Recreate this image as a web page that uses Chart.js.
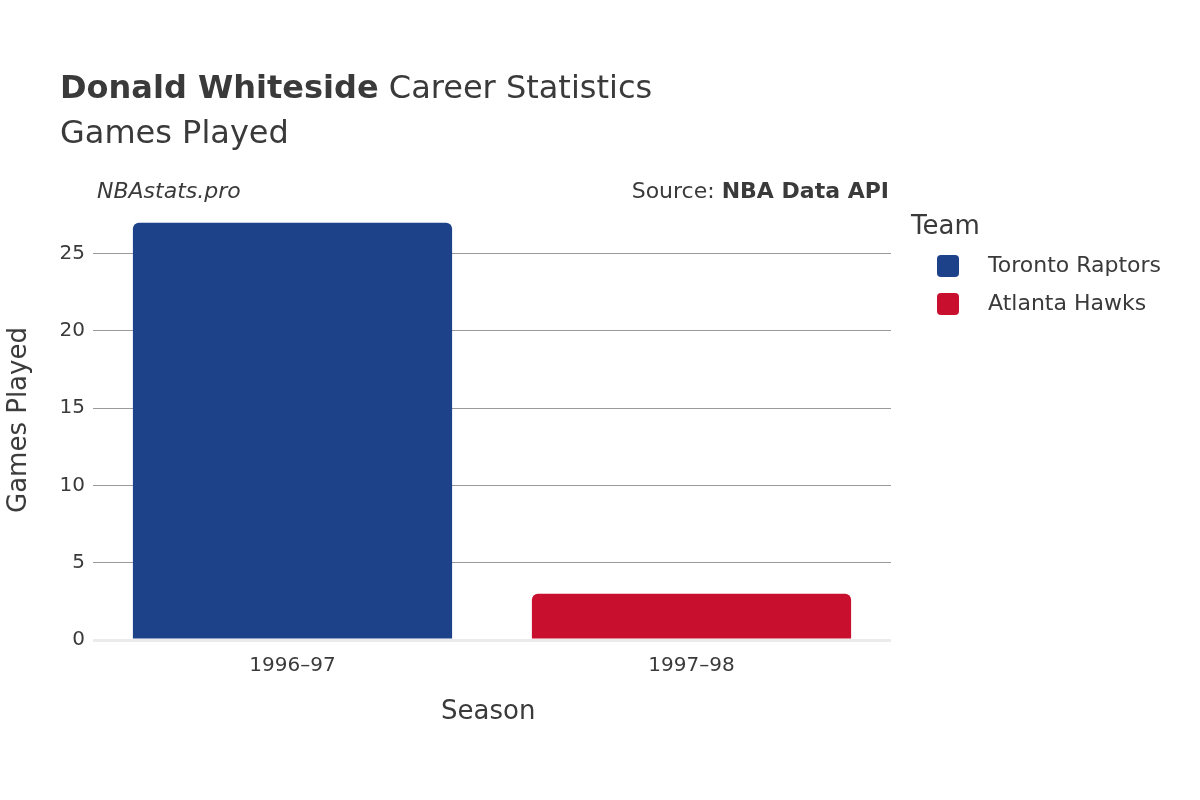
<!DOCTYPE html>
<html><head><meta charset="utf-8">
<script src="https://cdn.jsdelivr.net/npm/chart.js@4"></script>
<style>
body{margin:0;width:1200px;height:800px;position:relative;font-family:"DejaVu Sans",sans-serif;color:#3a3a3a;background:#fff}
.t{position:absolute;white-space:nowrap}
canvas{position:absolute;left:0;top:0}
</style></head><body>
<canvas id="c" width="1200" height="800"></canvas>
<div class="t" style="left:60px;top:68px;font-size:32px"><b>Donald Whiteside</b> Career Statistics</div>
<div class="t" style="left:60px;top:113px;font-size:32px">Games Played</div>
<div class="t" style="left:97px;top:178px;font-size:22px;font-style:italic">NBAstats.pro</div>
<div class="t" style="right:311px;top:178px;font-size:22px">Source: <b>NBA Data API</b></div>
<div class="t" style="left:441px;top:695px;font-size:26px">Season</div>
<div class="t" style="left:17px;top:420px;font-size:26px;transform:translate(-50%,-50%) rotate(-90deg);transform-origin:center;margin-left:0">Games Played</div>
<div class="t" style="left:911px;top:210px;font-size:26px">Team</div>
<div class="t" style="left:937px;top:255px;width:22px;height:22px;background:#1d428a;border-radius:4px"></div>
<div class="t" style="left:988px;top:252px;font-size:22px">Toronto Raptors</div>
<div class="t" style="left:937px;top:293px;width:22px;height:22px;background:#c8102e;border-radius:4px"></div>
<div class="t" style="left:988px;top:290px;font-size:22px">Atlanta Hawks</div>
<script>
const seasons=["1996–97","1997–98"];
const teams=["Toronto Raptors","Atlanta Hawks"];
const games=[27,3];
const colors=["#1d428a","#c8102e"];
new Chart(document.getElementById('c'),{type:'bar',
data:{labels:seasons,datasets:[{data:games,backgroundColor:colors,categoryPercentage:0.8,barPercentage:1,borderRadius:{topLeft:6,topRight:6},borderSkipped:'bottom'}]},
options:{responsive:false,animation:false,layout:{padding:{left:0,top:201,right:309,bottom:0}},
plugins:{legend:{display:false},tooltip:{enabled:false}},
scales:{
x:{afterFit:s=>{s.height=160},grid:{display:false},border:{display:false},ticks:{color:'#3a3a3a',font:{size:20,family:'DejaVu Sans'},padding:6}},
y:{min:0,max:28.4,afterFit:s=>{s.width=93},afterBuildTicks:s=>{s.ticks=[0,5,10,15,20,25].map(v=>({value:v}))},
border:{display:false},
grid:{color:c=>c.tick&&c.tick.value===0?'#ebebeb':'#9a9a9a',lineWidth:c=>c.tick&&c.tick.value===0?3:1,drawTicks:false},
ticks:{color:'#3a3a3a',font:{size:20,family:'DejaVu Sans'},padding:8}}}}});
</script></body></html>
